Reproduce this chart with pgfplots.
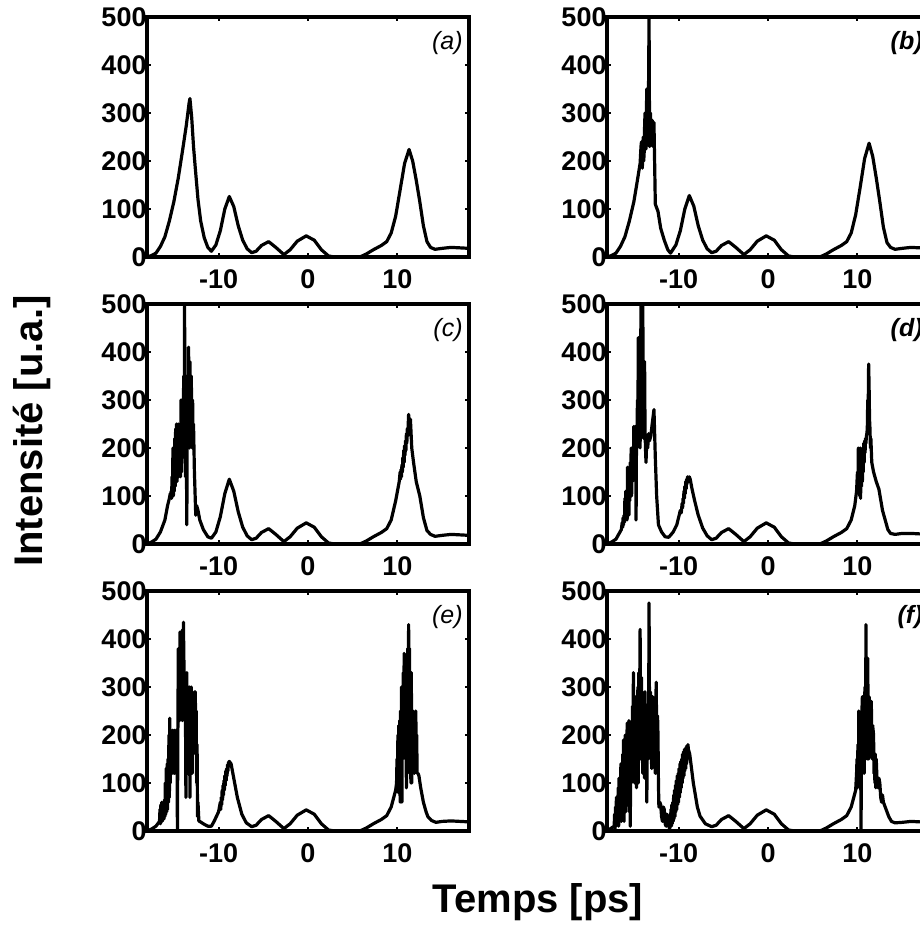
\documentclass[border=0pt]{standalone}
\usepackage{fontspec}
\setmainfont{Liberation Sans}
\usepackage{pgfplots}
\pgfplotsset{compat=1.18}
\pgfplotsset{
  panel/.style={
    scale only axis, width=161pt, height=120pt,
    anchor=north west,
    xmin=-18, xmax=18, ymin=0, ymax=500,
    xtick={-10,0,10}, ytick={0,100,200,300,400,500},
    tick align=inside, major tick length=2pt,
    axis line style={line width=1.8pt},
    every tick/.style={black, line width=1pt},
    tick label style={font=\fontsize{13.5}{14}\selectfont\bfseries},
    /pgf/number format/assume math mode=true,
    xticklabel style={yshift=-3pt},
    yticklabel style={xshift=3.3pt},
    every axis plot post/.append style={black, line width=1.6pt, mark=none, line join=round},
  },
}
\tikzset{
  lab/.style={anchor=north east, inner sep=0pt, xshift=-3pt, yshift=-7pt, font=\fontsize{12.5}{13}\selectfont\itshape},
  labb/.style={lab, font=\fontsize{12.5}{13}\selectfont\bfseries\itshape},
}
\begin{document}
\begin{tikzpicture}
% (a)
\begin{axis}[panel, at={(73.5pt,-8.5pt)}]
\addplot coordinates {(-18,0) (-17.5,3) (-17,8) (-16.5,22) (-16,42) (-15.5,75) (-15,115) (-14.5,165) (-14,225) (-13.6,275) (-13.3,320) (-13.2,330) (-13,290) (-12.8,230) (-12.6,185) (-12.3,120) (-12,75) (-11.6,40) (-11.2,20) (-10.8,12) (-10.3,25) (-9.8,55) (-9.3,100) (-8.8,126) (-8.3,105) (-7.8,65) (-7.3,35) (-6.8,17) (-6.3,9) (-5.8,12) (-5.2,24) (-4.4,32) (-3.6,20) (-2.7,5) (-2,15) (-1.2,33) (-0.2,44) (0.7,35) (1.5,15) (2.3,2) (3,0) (5.8,0) (6.5,6) (7.3,15) (8.2,24) (8.8,32) (9.3,50) (9.8,85) (10.3,140) (10.8,195) (11.3,224) (11.7,200) (12.1,160) (12.5,115) (12.9,65) (13.3,32) (13.7,20) (14.2,16) (15,18) (16,20) (17,19) (18,18)};
\node[lab] at (rel axis cs:1,1) {(a)};
\end{axis}
% (b)
\begin{axis}[panel, at={(303.5pt,-8.5pt)}]
\addplot coordinates {(-18,0) (-17.5,3) (-17,8) (-16.5,22) (-16,42) (-15.5,75) (-15,115) (-14.6,160) (-14.3,195) (-14.2,230) (-14.15,240) (-14.1,200) (-14.05,185) (-14,230) (-13.95,250) (-13.9,200) (-13.85,215) (-13.8,270) (-13.75,300) (-13.7,240) (-13.65,225) (-13.6,300) (-13.55,350) (-13.5,260) (-13.45,235) (-13.4,270) (-13.38,290) (-13.3,500) (-13.24,230) (-13.2,270) (-13.15,300) (-13.1,250) (-13.05,240) (-13,270) (-12.95,285) (-12.9,250) (-12.85,230) (-12.8,260) (-12.75,280) (-12.6,110) (-12.3,95) (-12,60) (-11.6,35) (-11.2,15) (-10.9,8) (-10.3,25) (-9.8,55) (-9.3,100) (-8.8,128) (-8.3,106) (-7.8,65) (-7.3,35) (-6.8,17) (-6.3,9) (-5.8,12) (-5.2,24) (-4.4,32) (-3.6,20) (-2.7,5) (-2,15) (-1.2,33) (-0.2,44) (0.7,35) (1.5,15) (2.3,2) (3,0) (5.8,0) (6.5,6) (7.3,15) (8.2,24) (8.8,32) (9.3,50) (9.8,88) (10.3,145) (10.8,205) (11.3,237) (11.7,210) (12.1,165) (12.5,115) (12.9,62) (13.3,30) (13.7,20) (14.2,16) (15,18) (16,20) (17,19) (18,18)};
\node[labb] at (rel axis cs:1,1) {(b)};
\end{axis}
% (c)
\begin{axis}[panel, at={(73.5pt,-152pt)}]
\addplot coordinates {(-18,0) (-17.5,4) (-17,10) (-16.5,25) (-16,50) (-15.7,80) (-15.5,95) (-15.4,105) (-15.35,100) (-15.3,110) (-15.25,95) (-15.2,140) (-15.15,100) (-15.1,200) (-15.05,100) (-15,180) (-14.95,110) (-14.9,220) (-14.85,120) (-14.8,240) (-14.75,140) (-14.7,250) (-14.65,130) (-14.6,200) (-14.55,150) (-14.5,250) (-14.45,140) (-14.4,220) (-14.35,160) (-14.3,250) (-14.25,140) (-14.2,300) (-14.15,150) (-14.1,260) (-14.05,180) (-14,300) (-13.95,200) (-13.9,350) (-13.85,180) (-13.8,495) (-13.75,250) (-13.7,140) (-13.65,350) (-13.6,200) (-13.55,40) (-13.5,250) (-13.45,300) (-13.4,200) (-13.35,410) (-13.3,250) (-13.25,200) (-13.2,380) (-13.15,300) (-13.1,250) (-13.05,350) (-13,260) (-12.95,200) (-12.9,300) (-12.85,200) (-12.8,250) (-12.7,150) (-12.65,120) (-12.55,60) (-12.45,80) (-12.3,70) (-12.1,50) (-11.7,30) (-11.2,15) (-10.8,12) (-10.3,25) (-9.8,57) (-9.3,105) (-8.8,135) (-8.3,110) (-7.8,67) (-7.3,35) (-6.8,17) (-6.3,9) (-5.8,12) (-5.2,24) (-4.4,32) (-3.6,20) (-2.7,5) (-2,15) (-1.2,33) (-0.2,44) (0.7,35) (1.5,15) (2.3,2) (3,0) (5.8,0) (6.5,6) (7.3,15) (8.2,24) (8.8,32) (9.3,50) (9.8,90) (10.2,130) (10.3,150) (10.35,135) (10.4,155) (10.45,140) (10.5,165) (10.55,150) (10.6,180) (10.65,160) (10.7,195) (10.75,170) (10.8,205) (10.85,185) (10.9,215) (10.95,195) (11,230) (11.05,210) (11.1,240) (11.15,225) (11.25,270) (11.3,240) (11.35,255) (11.45,260) (11.6,200) (11.8,170) (12.1,130) (12.5,100) (12.9,55) (13.3,28) (13.7,20) (14.2,16) (15,18) (16,20) (17,19) (18,18)};
\node[lab] at (rel axis cs:1,1) {(c)};
\end{axis}
% (d)
\begin{axis}[panel, at={(303.5pt,-152pt)}]
\addplot coordinates {(-18,0) (-17.5,4) (-17,10) (-16.7,20) (-16.4,30) (-16.3,45) (-16.25,35) (-16.2,55) (-16.15,40) (-16.1,60) (-16.05,45) (-16,95) (-15.95,50) (-15.9,110) (-15.85,60) (-15.8,100) (-15.75,50) (-15.7,160) (-15.65,80) (-15.6,100) (-15.55,60) (-15.5,160) (-15.45,90) (-15.4,170) (-15.35,120) (-15.3,200) (-15.25,100) (-15.2,150) (-15.15,130) (-15.1,200) (-15.05,150) (-15,245) (-14.95,160) (-14.9,220) (-14.85,180) (-14.8,245) (-14.75,50) (-14.7,240) (-14.65,200) (-14.6,300) (-14.55,250) (-14.5,430) (-14.45,300) (-14.4,260) (-14.35,400) (-14.3,200) (-14.25,350) (-14.2,500) (-14.15,280) (-14.1,330) (-14.05,450) (-14,500) (-13.95,300) (-13.9,220) (-13.85,350) (-13.8,380) (-13.75,240) (-13.7,200) (-13.64,170) (-13.55,220) (-13.45,200) (-13.35,230) (-13.25,215) (-13.1,225) (-12.95,250) (-12.75,280) (-12.6,180) (-12.45,100) (-12.25,40) (-11.9,25) (-11.5,15) (-11.1,14) (-10.6,25) (-10.2,40) (-9.8,70) (-9.7,65) (-9.6,85) (-9.55,75) (-9.5,95) (-9.45,85) (-9.4,110) (-9.35,95) (-9.3,120) (-9.25,105) (-9.2,130) (-9.15,115) (-9.1,135) (-9.05,125) (-9,140) (-8.9,130) (-8.8,140) (-8.7,135) (-8.5,115) (-8.2,90) (-7.8,60) (-7.3,33) (-6.8,17) (-6.3,9) (-5.8,12) (-5.2,24) (-4.4,32) (-3.6,20) (-2.7,5) (-2,15) (-1.2,33) (-0.2,44) (0.7,35) (1.5,15) (2.3,2) (3,0) (5.8,0) (6.5,6) (7.3,15) (8.2,24) (8.8,32) (9.3,50) (9.7,80) (9.9,110) (9.95,130) (10,150) (10.05,110) (10.1,200) (10.15,120) (10.2,190) (10.25,100) (10.3,200) (10.35,95) (10.4,180) (10.45,120) (10.5,190) (10.55,130) (10.6,200) (10.65,150) (10.7,210) (10.75,170) (10.8,215) (10.85,190) (10.9,220) (10.95,210) (11,225) (11.05,230) (11.1,240) (11.15,300) (11.2,280) (11.25,375) (11.3,330) (11.35,260) (11.4,240) (11.45,200) (11.5,220) (11.6,170) (11.8,150) (12.1,130) (12.4,114) (12.8,70) (13.1,50) (13.4,30) (13.7,22) (14.2,20) (15,22) (16,22) (17,21) (18,20)};
\node[labb] at (rel axis cs:1,1) {(d)};
\end{axis}
% (e)
\begin{axis}[panel, at={(73.5pt,-295.5pt)}]
\addplot coordinates {(-18,0) (-17.5,4) (-17,10) (-16.6,20) (-16.55,45) (-16.5,15) (-16.45,55) (-16.4,25) (-16.35,60) (-16.3,20) (-16.25,50) (-16.2,30) (-16.15,60) (-16.1,25) (-16.05,65) (-16,30) (-15.95,100) (-15.9,35) (-15.85,130) (-15.8,40) (-15.75,140) (-15.7,45) (-15.65,150) (-15.6,60) (-15.55,200) (-15.5,70) (-15.45,235) (-15.4,100) (-15.35,210) (-15.3,120) (-15.25,200) (-15.2,140) (-15.15,210) (-15.1,120) (-15.05,200) (-15,150) (-14.95,210) (-14.9,120) (-14.85,200) (-14.8,150) (-14.75,210) (-14.7,170) (-14.65,200) (-14.6,0) (-14.55,200) (-14.5,380) (-14.45,250) (-14.4,350) (-14.35,230) (-14.3,415) (-14.25,280) (-14.2,400) (-14.15,300) (-14.1,360) (-14.05,230) (-14,420) (-13.95,300) (-13.93,435) (-13.85,320) (-13.8,270) (-13.75,330) (-13.7,250) (-13.65,70) (-13.6,250) (-13.55,330) (-13.5,200) (-13.45,120) (-13.4,300) (-13.35,250) (-13.3,150) (-13.25,300) (-13.2,70) (-13.15,250) (-13.1,180) (-13.05,300) (-13,250) (-12.95,120) (-12.9,280) (-12.85,160) (-12.8,220) (-12.75,180) (-12.7,290) (-12.65,200) (-12.6,290) (-12.55,180) (-12.5,250) (-12.45,100) (-12.4,180) (-12.35,30) (-12.3,60) (-12.2,20) (-12.1,20) (-11.7,15) (-11.2,10) (-10.8,10) (-10.5,20) (-10,40) (-9.8,60) (-9.75,45) (-9.7,70) (-9.65,55) (-9.6,85) (-9.55,65) (-9.5,95) (-9.45,75) (-9.4,105) (-9.35,85) (-9.3,115) (-9.25,95) (-9.2,125) (-9.15,105) (-9.1,130) (-9.05,115) (-9,138) (-8.95,125) (-8.9,142) (-8.8,145) (-8.6,140) (-8.3,110) (-7.9,70) (-7.4,35) (-6.9,17) (-6.3,9) (-5.8,12) (-5.2,24) (-4.4,32) (-3.6,20) (-2.7,5) (-2,15) (-1.2,33) (-0.2,44) (0.7,35) (1.5,15) (2.3,2) (3,0) (5.8,0) (6.5,6) (7.3,15) (8.2,24) (8.8,32) (9.3,50) (9.8,85) (9.9,100) (9.95,150) (10,90) (10.05,200) (10.1,80) (10.15,220) (10.2,100) (10.25,230) (10.3,60) (10.35,250) (10.4,120) (10.45,300) (10.5,60) (10.55,300) (10.6,150) (10.65,330) (10.7,180) (10.75,370) (10.8,200) (10.85,340) (10.9,150) (10.95,300) (11,90) (11.05,350) (11.1,200) (11.15,380) (11.2,250) (11.25,430) (11.3,150) (11.35,380) (11.4,120) (11.45,300) (11.5,100) (11.55,330) (11.6,100) (11.65,250) (11.7,120) (11.75,250) (11.8,150) (11.85,200) (11.9,120) (11.95,180) (12,130) (12.05,250) (12.1,160) (12.15,200) (12.2,120) (12.3,120) (12.4,115) (12.6,90) (12.9,60) (13.2,40) (13.4,30) (13.8,22) (14.3,18) (15,20) (16,21) (17,20) (18,19)};
\node[lab] at (rel axis cs:1,1) {(e)};
\end{axis}
% (f)
\begin{axis}[panel, at={(303.5pt,-295.5pt)}]
\addplot coordinates {(-18,0) (-17.6,5) (-17.2,10) (-17.15,35) (-17.1,5) (-17.05,50) (-17,10) (-16.95,70) (-16.9,15) (-16.85,60) (-16.8,20) (-16.75,90) (-16.7,10) (-16.65,110) (-16.6,25) (-16.55,100) (-16.5,30) (-16.45,140) (-16.4,20) (-16.35,130) (-16.3,40) (-16.25,160) (-16.2,50) (-16.15,190) (-16.1,20) (-16.05,170) (-16,60) (-15.95,200) (-15.9,40) (-15.85,190) (-15.8,70) (-15.75,225) (-15.7,60) (-15.65,200) (-15.6,90) (-15.55,230) (-15.5,40) (-15.45,210) (-15.4,10) (-15.35,150) (-15.3,100) (-15.25,225) (-15.2,150) (-15.15,260) (-15.1,120) (-15.05,330) (-15,140) (-14.95,250) (-14.9,100) (-14.85,280) (-14.8,130) (-14.75,220) (-14.7,90) (-14.65,260) (-14.6,180) (-14.55,300) (-14.5,100) (-14.45,330) (-14.4,200) (-14.35,280) (-14.3,420) (-14.25,230) (-14.2,150) (-14.15,320) (-14.1,200) (-14.05,290) (-14,120) (-13.95,240) (-13.9,280) (-13.85,180) (-13.8,110) (-13.75,290) (-13.7,200) (-13.65,150) (-13.6,250) (-13.55,60) (-13.5,200) (-13.45,250) (-13.4,150) (-13.35,200) (-13.3,475) (-13.25,250) (-13.2,180) (-13.15,290) (-13.1,230) (-13.05,160) (-13,130) (-12.95,220) (-12.9,280) (-12.85,170) (-12.8,200) (-12.75,260) (-12.7,240) (-12.65,160) (-12.6,120) (-12.55,250) (-12.5,310) (-12.45,200) (-12.4,120) (-12.35,240) (-12.3,200) (-12.25,100) (-12.2,50) (-12.1,60) (-12,55) (-11.9,30) (-11.8,20) (-11.7,50) (-11.6,45) (-11.5,15) (-11.4,10) (-11.3,35) (-11.2,30) (-11.1,10) (-11,5) (-10.9,20) (-10.85,45) (-10.8,10) (-10.75,55) (-10.7,15) (-10.65,60) (-10.6,20) (-10.55,75) (-10.5,25) (-10.45,85) (-10.4,30) (-10.35,95) (-10.3,40) (-10.25,105) (-10.2,45) (-10.15,115) (-10.1,55) (-10.05,120) (-10,60) (-9.95,130) (-9.9,70) (-9.85,140) (-9.8,80) (-9.75,145) (-9.7,90) (-9.65,150) (-9.6,100) (-9.55,160) (-9.5,110) (-9.45,165) (-9.4,115) (-9.35,170) (-9.3,125) (-9.25,172) (-9.2,130) (-9.15,175) (-9.1,140) (-9.05,178) (-9,150) (-8.95,180) (-8.9,170) (-8.75,160) (-8.55,130) (-8.35,100) (-7.9,50) (-7.6,31) (-7,15) (-6.3,9) (-5.8,12) (-5.2,24) (-4.4,32) (-3.6,20) (-2.7,5) (-2,15) (-1.2,33) (-0.2,44) (0.7,35) (1.5,15) (2.3,2) (3,0) (5.8,0) (6.5,6) (7.3,15) (8.2,24) (8.8,32) (9.3,50) (9.8,85) (9.9,120) (9.95,150) (10,90) (10.05,180) (10.1,100) (10.15,250) (10.2,120) (10.25,230) (10.3,150) (10.35,200) (10.4,0) (10.45,180) (10.5,250) (10.55,280) (10.6,160) (10.65,260) (10.7,150) (10.75,120) (10.8,280) (10.85,300) (10.9,150) (10.95,430) (11,160) (11.05,350) (11.1,150) (11.15,360) (11.2,200) (11.25,150) (11.3,280) (11.35,270) (11.4,180) (11.45,260) (11.5,200) (11.55,270) (11.6,170) (11.65,150) (11.7,220) (11.8,200) (11.85,120) (11.9,150) (11.95,100) (12,160) (12.05,90) (12.1,150) (12.2,100) (12.3,90) (12.4,110) (12.5,100) (12.6,70) (12.7,60) (12.8,75) (12.9,60) (13,55) (13.2,45) (13.5,30) (13.8,20) (14.2,17) (15,18) (16,20) (17,19) (18,17)};
\node[labb] at (rel axis cs:1,1) {(f)};
\end{axis}
\node[rotate=90, anchor=base, font=\fontsize{20}{22}\selectfont\bfseries] at (21pt,-215.5pt) {Intensité [u.a.]};
\node[anchor=base, font=\fontsize{20}{22}\selectfont\bfseries] at (269pt,-456pt) {Temps [ps]};
\pgfresetboundingbox
\useasboundingbox (0pt,0pt) rectangle (459.5pt,-464.5pt);
\end{tikzpicture}
\end{document}
